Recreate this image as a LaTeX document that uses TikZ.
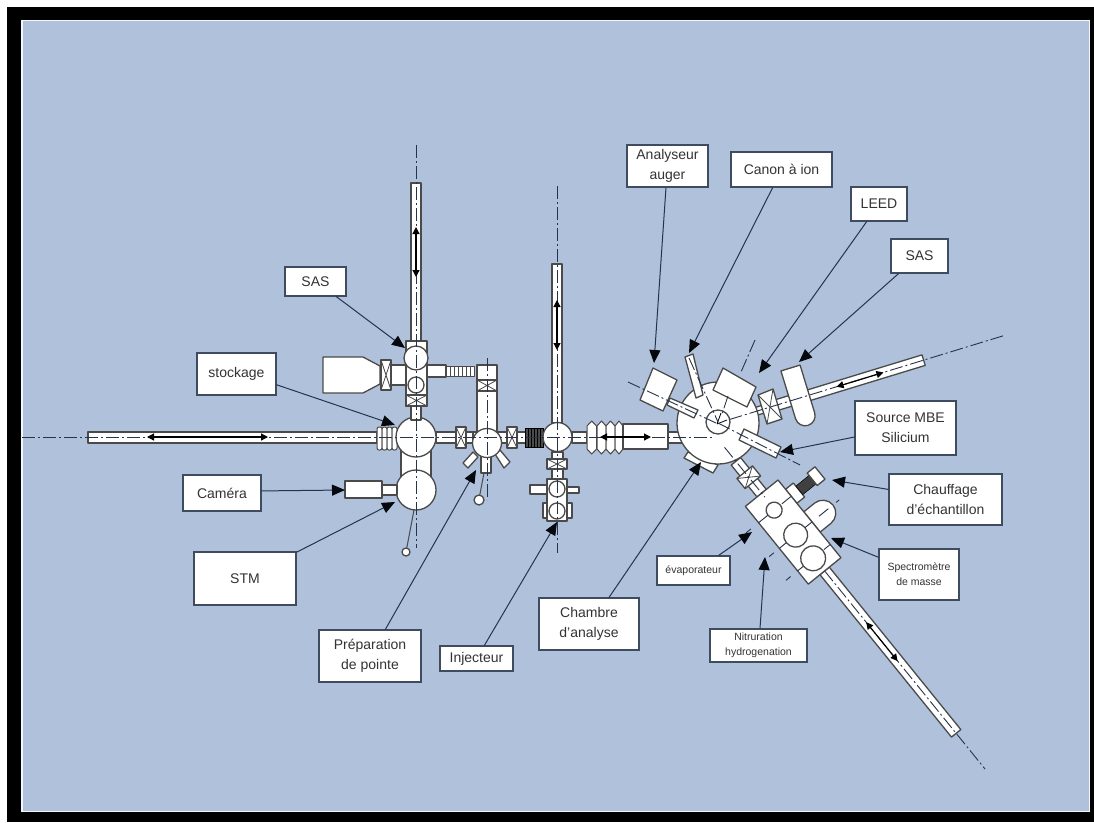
\documentclass[tikz,border=0pt]{standalone}
\usepackage{fontspec}
\setmainfont{Liberation Sans}
\usetikzlibrary{arrows.meta}
\definecolor{bgblue}{HTML}{AFC1DB}
\definecolor{edgegray}{HTML}{4A4A4A}
\definecolor{leadblue}{HTML}{24344F}
\definecolor{axiscol}{HTML}{25344A}
\definecolor{lbltext}{HTML}{333333}
\tikzset{
  part/.style={fill=white,draw=edgegray,line width=1.3pt,line join=round},
  axisline/.style={draw=axiscol,line width=0.9pt,dash pattern=on 13pt off 3pt on 2pt off 3pt},
  lbl/.style={draw=leadblue!70!gray,fill=white,line width=1.1pt,inner sep=0pt,align=center,text=lbltext,font=\fontsize{14}{20}\selectfont},
  lblsmall/.style={lbl,font=\fontsize{10.5}{15}\selectfont},
  lead/.style={draw=leadblue,line width=1pt,-{Triangle[length=13pt,width=11pt,color=black!85!leadblue]}},
  travel/.style={draw=black,line width=1.2pt,{Triangle[length=7pt,width=7pt]}-{Triangle[length=7pt,width=7pt]}}
}
\newcommand{\vlvbox}[4]{\draw[part] (#1,#2) rectangle (#3,#4); \draw[draw=edgegray,line width=0.8pt] (#1,#2) -- (#3,#4) (#1,#4) -- (#3,#2);}
\newcommand{\ball}[3]{\draw[part] (#1,#2) circle[radius=#3pt];}
\begin{document}
\begin{tikzpicture}[x=1pt,y=-1pt]
\useasboundingbox (0,0) rectangle (1094,822);
\fill[white] (0,0) rectangle (1094,822);
\fill[black] (7,7) rectangle (1094,822);
\fill[white!85!bgblue] (21,20) rectangle (1089.5,812);
\fill[bgblue] (23,21) rectangle (1089,811);

% --- left line
\draw[part] (88,432) rectangle (377,443);
\foreach \bx in {377,382,387,392}{\draw[part,line width=1pt,rounded corners=2pt] (\bx,427) rectangle (\bx+5,450);}
\draw[part] (401,445) rectangle (431,480);
\draw[part] (436,432) rectangle (473,443);
\ball{416}{437}{20}
\ball{416}{490}{20}
% STM lever, camera
\draw[part] (380,485) rectangle (397,495);
\draw[part] (345,481) rectangle (382,498);
\draw[draw=edgegray,line width=1pt] (414,510) -- (406,552);
\ball{406}{552}{4}
% upper column
\draw[part] (411,183) rectangle (421,345);
\draw[part] (411,400) rectangle (421,420);
\draw[part] (406,341) rectangle (427,406);
\vlvbox{406}{395}{427}{406}
\ball{416}{358}{12}
\ball{416}{385}{8}
% SAS cone
\draw[part] (323,357) -- (363,357) -- (380,366) -- (380,384) -- (363,393) -- (323,393) -- cycle;
\draw[part] (391,365) rectangle (406,385);
\vlvbox{381}{360}{391}{390}
% crossover
\draw[part] (427,365) rectangle (446,377);
\foreach \bx in {446,450,454,458,462,466,470}{\draw[part,line width=0.8pt] (\bx,366) rectangle (\bx+4,376);}
\draw[part] (477,391) rectangle (497,432);
\draw[part] (477,365) rectangle (497,381);
\vlvbox{477}{380}{497}{391}
% preparation
\draw[part] (473,432) rectangle (507,443);
\draw[part] (481,455) rectangle (491,473);
\draw[part] (463,463) -- (468,468) -- (478,457) -- (473,452) -- cycle;
\draw[part] (495,454) -- (500,450) -- (510,462) -- (504,468) -- cycle;
\ball{487}{443}{14.5}
\draw[draw=edgegray,line width=1pt] (484,473) -- (479,499);
\ball{479}{500}{5}
\vlvbox{456}{427}{466}{448}
\vlvbox{507}{427}{517}{448}
\draw[part] (517,432) rectangle (543,443);
\foreach \bx in {525,528,531,534,537,540}{\draw[draw=black,fill=edgegray,line width=0.8pt] (\bx,428) rectangle (\bx+3,447);}
% second column
\draw[part] (552,264) rectangle (562,423);
\draw[part] (552,452) rectangle (563,480);
\vlvbox{547}{459}{567}{469}
\draw[part] (530,485) rectangle (547,494);
\draw[part] (567,487) rectangle (579,493);
\draw[part] (543,503) rectangle (547,518);
\draw[part] (567,503) rectangle (572,518);
\draw[part] (547,479) rectangle (567,521);
\ball{557}{489}{8}
\ball{557}{511}{8}
\draw[part] (572,432) rectangle (587,443);
\ball{557.5}{437}{14.5}
% bellows to chamber
\foreach \bx/\bw in {587/9.5,597/9,606/9,615/8}{\draw[part,line width=1pt] (\bx,426) -- (\bx+\bw/2,421) -- (\bx+\bw,426) -- (\bx+\bw,449) -- (\bx+\bw/2,454) -- (\bx,449) -- cycle;}
\draw[part] (623,424) rectangle (668,449);
\draw[part] (668,432) rectangle (682,443);
% --- chamber
\draw[part] (688,452) -- (718,465) -- (713,473) -- (684,458) -- cycle;
\begin{scope}[shift={(717,438)},rotate=-51]
  \draw[part] (30,-6) rectangle (71,6);
\end{scope}
\begin{scope}[shift={(718,423)},rotate=17]
  \draw[part] (36,-4) rectangle (50,4);
  \draw[part] (58,-5.5) rectangle (215,5.5);
\end{scope}
\ball{718}{423}{41}
\ball{718}{422}{12}
\draw[draw=black,line width=0.8pt] (717,424) -- (727,420) (717,424) -- (721,413);
% attached to chamber
\draw[part] (670,398) -- (698,410) -- (694,418) -- (667,405) -- cycle;
\draw[part] (653,368) -- (677,380) -- (663,411) -- (640,400) -- cycle;
\draw[part] (685,357) -- (693,354) -- (703,395) -- (696,398) -- cycle;
\draw[part] (723,368) -- (756,387) -- (747,407) -- (713,390) -- cycle;
\draw[part] (744,429) -- (781,447) -- (776,458) -- (739,440) -- cycle;
\draw[part] (758,395) -- (773,389) -- (782,419) -- (767,424) -- cycle;
\draw[draw=edgegray,line width=0.8pt] (758,395) -- (782,419) (773,389) -- (767,424);
% SAS capsule
\begin{scope}[shift={(790.5,368)},rotate=17]
  \draw[part] (-10,0) -- (10,0) -- (10,50) .. controls (10,55.5) and (5.5,60) .. (0,60) .. controls (-5.5,60) and (-10,55.5) .. (-10,50) -- cycle;
\end{scope}
% --- lower assembly
\begin{scope}[shift={(717,438)},rotate=-51]
  \draw[part] (44,-10) rectangle (57,10);
  \draw[draw=edgegray,line width=0.8pt] (44,-10) -- (57,10) (44,10) -- (57,-10);
  \draw[part] (171,-6) rectangle (380,6);
  \draw[part] (112,-21) -- (112,-35) .. controls (112,-42) and (118,-48) .. (125,-48) .. controls (132,-48) and (138,-42) .. (138,-35) -- (138,-21) -- cycle;
  \draw[part] (83,-31) rectangle (101,-21);
  \draw[draw=black,fill=black!75,line width=0.5pt] (87,-48) rectangle (98,-31);
  \draw[part] (84,-58) rectangle (100,-48);
  \draw[part] (71,-21) rectangle (171,21);
  \ball{92}{1}{8}
  \ball{125}{0}{12}
  \ball{154}{1}{12.5}
  \draw[axisline] (12,0) -- (76,0);
  \draw[axisline] (171,0) -- (426,0);
  \draw[travel] (237,0) -- (287,0);
  \foreach \cu/\ra/\rb in {92/-21/-9,125/-21/-12,154/-21/-13}{\draw[draw=axiscol,line width=0.9pt] (\cu,\ra) -- (\cu,\rb);}
  \draw[draw=axiscol,line width=0.9pt] (92,9) -- (92,21) (125,12) -- (125,21) (154,14) -- (154,21);
  \draw[draw=axiscol,line width=0.9pt] (92,31) -- (92,37) (125,28) -- (125,34) (154,30) -- (154,36);
  \draw[draw=axiscol,line width=0.9pt] (125,-52) -- (125,-56) (125,-30) -- (125,-42);
\end{scope}
% --- axes
\draw[axisline] (416,145) -- (416,548);
\draw[axisline] (487,358) -- (487,500);
\draw[axisline] (557,186) -- (557,553);
\draw[axisline] (22,437) -- (713,437);
\draw[axisline] (628,382) -- (716,423);
\draw[axisline] (689,358) -- (718,422);
\draw[axisline] (755,340) -- (741,372);
\draw[axisline] (728,396) -- (722,414);
\draw[axisline] (718,423) -- (800,465);
\begin{scope}[shift={(718,423)},rotate=17]
  \draw[axisline] (12,0) -- (300,0);
  \draw[travel] (124,0) -- (173,0);
\end{scope}
% travel arrows
\draw[travel] (147,437) -- (268,437);
\draw[travel] (416,227) -- (416,277);
\draw[travel] (557,300) -- (557,350);
\draw[travel] (600,437) -- (651,437);

% --- labels
\node[lbl,minimum width=61pt,minimum height=29pt] (nsasl) at (315.5,281.5) {SAS};
\node[lbl,minimum width=79pt,minimum height=42pt] (nstock) at (236.5,374) {stockage};
\node[lbl,minimum width=78pt,minimum height=36pt] (ncam) at (222,493) {Caméra};
\node[lbl,minimum width=102pt,minimum height=53pt] (nstm) at (245,578.5) {STM};
\node[lbl,minimum width=102pt,minimum height=52pt] (nprep) at (370,656) {Préparation\\de pointe};
\node[lbl,minimum width=73pt,minimum height=25pt] (ninj) at (476.5,658.5) {Injecteur};
\node[lbl,minimum width=100pt,minimum height=52pt] (ncha) at (589,624) {Chambre\\d’analyse};
\node[lbl,minimum width=81pt,minimum height=42pt] (naug) at (667.5,166) {Analyseur\\auger};
\node[lbl,minimum width=101pt,minimum height=35pt] (ncan) at (781.5,169.5) {Canon à ion};
\node[lbl,minimum width=56pt,minimum height=34pt] (nleed) at (879,204) {LEED};
\node[lbl,minimum width=57pt,minimum height=34pt] (nsasr) at (919.5,256) {SAS};
\node[lbl,minimum width=101pt,minimum height=54pt] (nsrc) at (905.5,428) {Source MBE\\Silicium};
\node[lbl,minimum width=113pt,minimum height=51pt] (nchf) at (945.5,499.5) {Chauffage\\d’échantillon};
\node[lblsmall,minimum width=80pt,minimum height=51pt] (nspe) at (919,574.5) {Spectromètre\\de masse};
\node[lblsmall,minimum width=73pt,minimum height=29pt] (nevp) at (693.5,570.5) {évaporateur};
\node[lblsmall,minimum width=97pt,minimum height=33pt] (nnit) at (758.5,645.5) {Nitruration\\hydrogenation};

% --- leader ends
\coordinate (tsasl) at (405,348);
\coordinate (tstock) at (395,425);
\coordinate (tcam) at (345,490);
\coordinate (tstm) at (395,502);
\coordinate (tprep) at (476,470);
\coordinate (tinj) at (557,522);
\coordinate (tcha) at (701,462);
\coordinate (taug) at (654,363);
\coordinate (tcan) at (689,353);
\coordinate (tleed) at (759,373);
\coordinate (tsasr) at (799,362);
\coordinate (tsrc) at (780,452);
\coordinate (tchf) at (832,480);
\coordinate (tspe) at (831,538);
\coordinate (tevp) at (752,532);
\coordinate (tnit) at (765,557);

\draw[lead] (nsasl.-36.6) -- (tsasl);
\draw[lead] (nstock.-15.6) -- (tstock);
\draw[lead] (ncam.3) -- (tcam);
\draw[lead] (nstm.27.9) -- (tstm);
\draw[lead] (nprep.60) -- (tprep);
\draw[lead] (ninj.59) -- (tinj);
\draw[lead] (ncha.53.8) -- (tcha);
\draw[lead] (naug.-94) -- (taug);
\draw[lead] (ncan.-116) -- (tcan);
\draw[lead] (nleed.-125) -- (tleed);
\draw[lead] (nsasr.-140.3) -- (tsasr);
\draw[lead] (nsrc.-170) -- (tsrc);
\draw[lead] (nchf.170.5) -- (tchf);
\draw[lead] (nspe.157.6) -- (tspe);
\draw[lead] (nevp.31.7) -- (tevp);
\draw[lead] (nnit.85) -- (tnit);
\end{tikzpicture}
\end{document}
